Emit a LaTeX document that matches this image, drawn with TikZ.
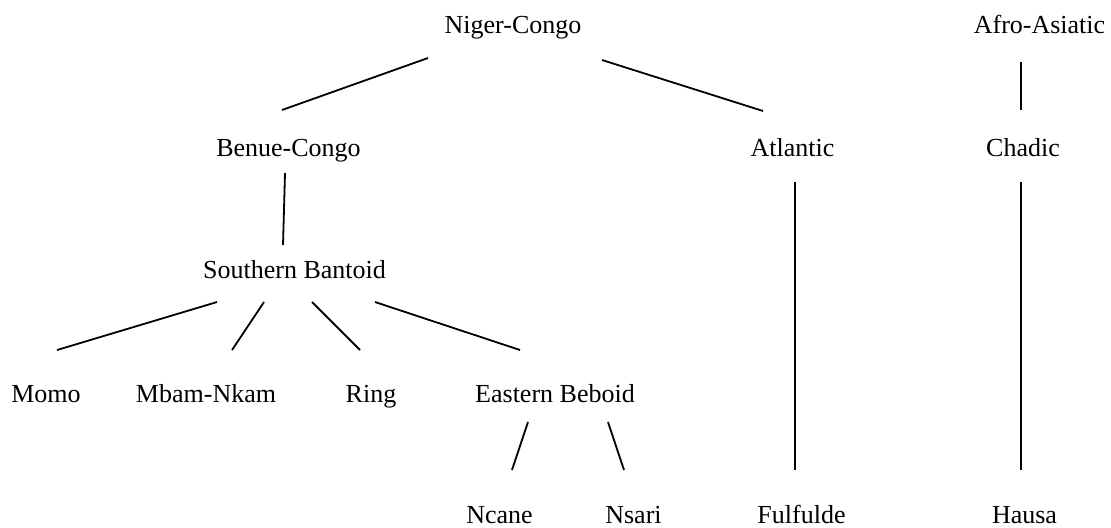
\documentclass[tikz,border=0pt]{standalone}
\usepackage{fontspec}
\setmainfont{Liberation Serif}
\usepackage{tikz}
\usetikzlibrary{positioning}

\tikzset{lang/.style={anchor=base, inner sep=0pt, font=\fontsize{13}{15}\selectfont},
         branch/.style={black, line width=0.9pt}}

\begin{document}
\begin{tikzpicture}[x=0.5pt,y=-0.5pt]

\useasboundingbox (0,0) rectangle (1111,527);

% families
\node[lang] (niger) at (513,33) {Niger-Congo};
\node[lang] (afro) at (1039.5,33) {Afro-Asiatic};

% branches
\node[lang] (benue) at (288.5,156) {Benue-Congo};
\node[lang] (atlantic) at (792.5,156) {Atlantic};
\node[lang] (chadic) at (1023,156) {Chadic};

\node[lang] (sbantoid) at (294.5,278) {Southern Bantoid};

\node[lang] (momo) at (46,402) {Momo};
\node[lang] (mbam) at (206,402) {Mbam-Nkam};
\node[lang] (ring) at (371,402) {Ring};
\node[lang] (ebeboid) at (555,402) {Eastern Beboid};

% languages
\node[lang] (ncane) at (499.5,523) {Ncane};
\node[lang] (nsari) at (633.5,523) {Nsari};
\node[lang] (fulfulde) at (801.5,523) {Fulfulde};
\node[lang] (hausa) at (1024.5,523) {Hausa};

\draw[branch] ([shift={(-85,25)}]niger.base) -- ([shift={(-6.5,-46)}]benue.base);
\draw[branch] ([shift={(89,27)}]niger.base) -- ([shift={(-29.5,-45)}]atlantic.base);
\draw[branch] ([shift={(-18.5,29)}]afro.base) -- ([shift={(-2,-46)}]chadic.base);

\draw[branch] ([shift={(-3.5,17)}]benue.base) -- ([shift={(-11.5,-33)}]sbantoid.base);
\draw[branch] ([shift={(2.5,26)}]atlantic.base) -- ([shift={(-6.5,-53)}]fulfulde.base);
\draw[branch] ([shift={(-2,26)}]chadic.base) -- ([shift={(-3.5,-53)}]hausa.base);

\draw[branch] ([shift={(-77.5,24)}]sbantoid.base) -- ([shift={(11,-52)}]momo.base);
\draw[branch] ([shift={(-30.5,24)}]sbantoid.base) -- ([shift={(26,-52)}]mbam.base);
\draw[branch] ([shift={(17.5,24)}]sbantoid.base) -- ([shift={(-11,-52)}]ring.base);
\draw[branch] ([shift={(80.5,24)}]sbantoid.base) -- ([shift={(-35,-52)}]ebeboid.base);

\draw[branch] ([shift={(-27,20)}]ebeboid.base) -- ([shift={(12.5,-53)}]ncane.base);
\draw[branch] ([shift={(53,20)}]ebeboid.base) -- ([shift={(-9.5,-53)}]nsari.base);

\end{tikzpicture}
\end{document}
